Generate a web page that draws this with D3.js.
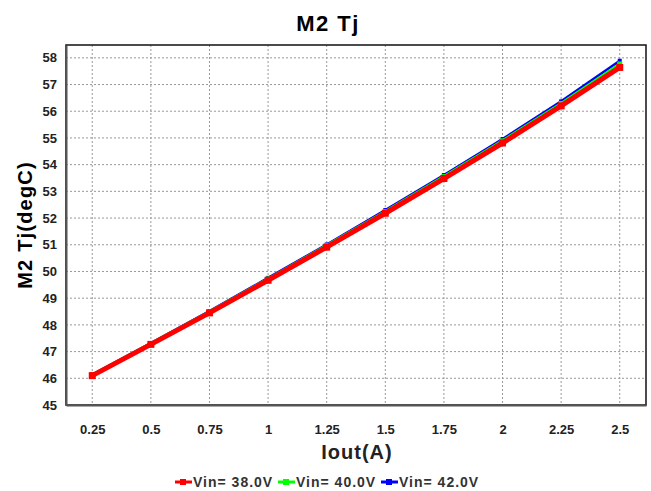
<!DOCTYPE html>
<html>
<head>
<meta charset="utf-8">
<script src="https://cdn.jsdelivr.net/npm/d3@7"></script>
<style>
  body { margin: 0; background: #fff; }
  svg { font-family: "Liberation Sans", Arial, sans-serif; }
</style>
</head>
<body>
<div id="chart"></div>
<script>
// values
const iout = [0.25, 0.5, 0.75, 1, 1.25, 1.5, 1.75, 2, 2.25, 2.5];
const vin38 = [46.10, 47.27, 48.45, 49.67, 50.91, 52.18, 53.48, 54.81, 56.20, 57.64];
const vin40 = [46.12, 47.30, 48.49, 49.72, 50.97, 52.24, 53.55, 54.89, 56.29, 57.77];
const vin42 = [46.14, 47.32, 48.52, 49.76, 51.01, 52.30, 53.61, 54.96, 56.37, 57.89];
const seriesNames = ['Vin= 38.0V', 'Vin= 40.0V', 'Vin= 42.0V'];
const seriesColors = ['#ff0000', '#00ff00', '#0000ff'];
const yTicks = d3.range(45, 59, 1);

const width = 651, height = 491;
const margin = { top: 45, right: 5, bottom: 86, left: 66 };
const w = width - margin.left - margin.right;
const h = height - margin.top - margin.bottom;

const svg = d3.select('#chart').append('svg')
  .attr('width', width)
  .attr('height', height);

const g = svg.append('g')
  .attr('transform', `translate(${margin.left},${margin.top})`);

const x = d3.scaleLinear().domain([0.138, 2.612]).range([0, w]);
const y = d3.scaleLinear().domain([45, 58.48]).range([h, 0]);

// grid
g.append('g')
  .selectAll('line')
  .data(iout)
  .join('line')
  .attr('x1', d => x(d)).attr('x2', d => x(d))
  .attr('y1', 0).attr('y2', h)
  .attr('stroke', '#999').attr('stroke-dasharray', '2,2');

g.append('g')
  .selectAll('line')
  .data(yTicks.slice(1))
  .join('line')
  .attr('x1', 0).attr('x2', w)
  .attr('y1', d => y(d)).attr('y2', d => y(d))
  .attr('stroke', '#999').attr('stroke-dasharray', '2,2');

// frame
g.append('rect')
  .attr('width', w).attr('height', h)
  .attr('fill', 'none').attr('stroke', '#111').attr('stroke-width', 1.5);

// axes
const xAxis = d3.axisBottom(x).tickValues(iout).tickSize(0).tickPadding(20)
  .tickFormat(d3.format('~g'));
const yAxis = d3.axisLeft(y).tickValues(yTicks).tickSize(0).tickPadding(9)
  .tickFormat(d3.format('d'));

const gx = g.append('g').attr('transform', `translate(0,${h})`).call(xAxis);
const gy = g.append('g').call(yAxis);
[gx, gy].forEach(a => {
  a.select('.domain').attr('stroke', '#555').attr('stroke-width', 2);
  a.selectAll('text')
    .attr('font-size', 13).attr('font-weight', 'bold').attr('fill', '#222')
    .attr('font-family', '"Liberation Sans", Arial, sans-serif');
});

// series
const series = [vin42, vin40, vin38];
const widths = [2.5, 3, 5];
const markerSize = [4, 5, 7];
const colorIdx = [2, 1, 0];

const line = d3.line()
  .x((d, i) => x(iout[i]))
  .y(d => y(d));

series.forEach((s, k) => {
  const c = seriesColors[colorIdx[k]];
  g.append('path')
    .datum(s)
    .attr('fill', 'none')
    .attr('stroke', c)
    .attr('stroke-width', widths[k])
    .attr('d', line);
  g.append('g')
    .selectAll('rect')
    .data(s)
    .join('rect')
    .attr('x', (d, i) => x(iout[i]) - markerSize[k] / 2)
    .attr('y', d => y(d) - markerSize[k] / 2)
    .attr('width', markerSize[k]).attr('height', markerSize[k])
    .attr('fill', c);
});

// titles
svg.append('text')
  .attr('x', 328).attr('y', 31)
  .attr('text-anchor', 'middle')
  .attr('font-size', 22).attr('font-weight', 'bold')
  .attr('letter-spacing', 1.5)
  .text('M2 Tj');

svg.append('text')
  .attr('x', 357).attr('y', 459)
  .attr('text-anchor', 'middle')
  .attr('font-size', 20).attr('font-weight', 'bold').attr('fill', '#222')
  .attr('letter-spacing', 1)
  .text('Iout(A)');

svg.append('text')
  .attr('transform', `translate(32,${margin.top + h / 2}) rotate(-90)`)
  .attr('text-anchor', 'middle')
  .attr('font-size', 20).attr('font-weight', 'bold')
  .attr('letter-spacing', 1.2)
  .text('M2 Tj(degC)');

// legend
const legendX = [175, 278, 381];
const leg = svg.append('g');
seriesNames.forEach((name, i) => {
  const lg = leg.append('g').attr('transform', `translate(${legendX[i]},482)`);
  lg.append('line')
    .attr('x1', 0).attr('x2', 17).attr('y1', 0).attr('y2', 0)
    .attr('stroke', seriesColors[i]).attr('stroke-width', 3);
  lg.append('rect')
    .attr('x', 5).attr('y', -3).attr('width', 6).attr('height', 6)
    .attr('fill', seriesColors[i]);
  lg.append('text')
    .attr('x', 18).attr('y', 5)
    .attr('font-size', 14).attr('font-weight', 'bold').attr('fill', '#333')
    .attr('letter-spacing', 1)
    .text(name);
});
</script>
</body>
</html>
